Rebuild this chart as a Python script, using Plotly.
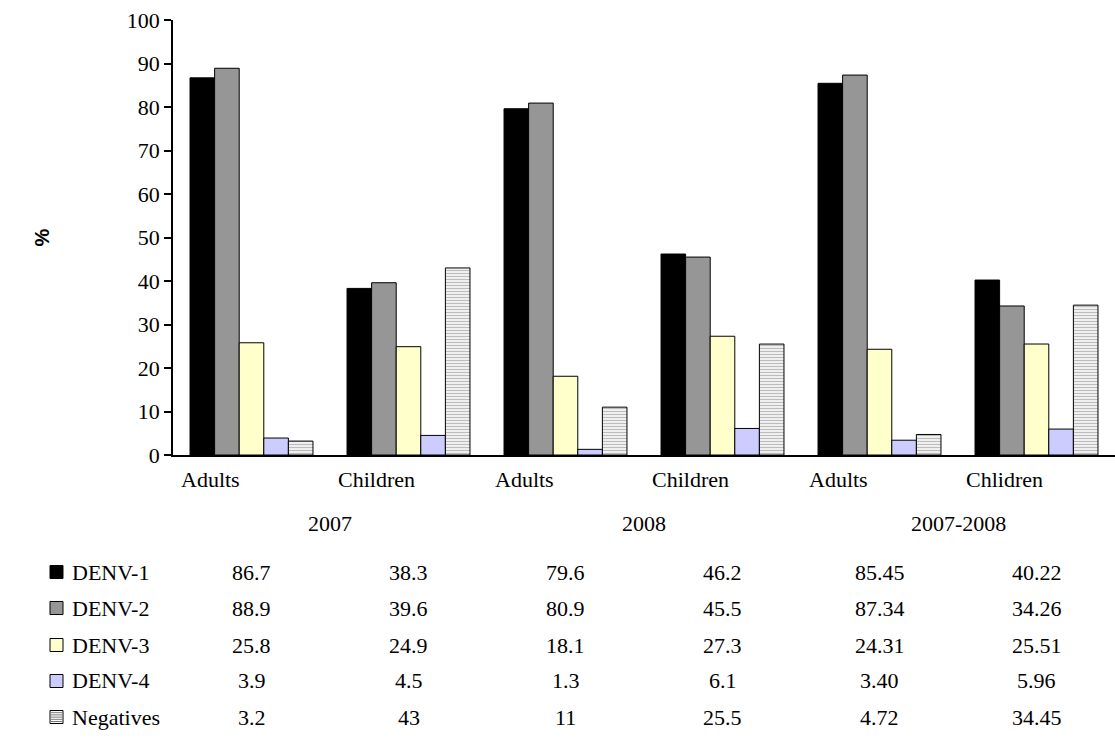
import plotly.graph_objects as go

# Dengue serotype distribution (%) by age group and period
categories = ["Adults", "Children", "Adults", "Children", "Adults", "Chlidren"]
periods = ["2007", "2008", "2007-2008"]
series_names = ["DENV-1", "DENV-2", "DENV-3", "DENV-4", "Negatives"]

# Values as printed in the data table (bars are drawn from the same numbers)
denv1 = ["86.7", "38.3", "79.6", "46.2", "85.45", "40.22"]
denv2 = ["88.9", "39.6", "80.9", "45.5", "87.34", "34.26"]
denv3 = ["25.8", "24.9", "18.1", "27.3", "24.31", "25.51"]
denv4 = ["3.9", "4.5", "1.3", "6.1", "3.40", "5.96"]
negatives = ["3.2", "43", "11", "25.5", "4.72", "34.45"]

y_ticks = list(range(0, 101, 10))

series_values = [denv1, denv2, denv3, denv4, negatives]
fills = ["#000000", "#969696", "#FFFFCC", "#CCCCFF", "#FFFFFF"]

W, H = 1115, 746
L, R, T, B = 173, 0, 20, 291
plot_w = W - L - R
plot_h = H - T - B
SERIF = "'Times New Roman', 'Liberation Serif', serif"
FS = 22


def px_x(px):
    return (px - L) / plot_w


def px_y(py):
    return (H - B - py) / plot_h


fig = go.Figure()
x_idx = list(range(len(categories)))
for name, vals, col in zip(series_names, series_values, fills):
    marker = dict(color=col, line=dict(color="#000000", width=1))
    if name == "Negatives":
        marker["pattern"] = dict(shape="-", fgcolor="#7a7a7a", bgcolor="#ffffff",
                                 size=3, solidity=0.5)
    fig.add_trace(go.Bar(x=x_idx, y=[float(v) for v in vals], name=name,
                         marker=marker, showlegend=False))

annotations = []
shapes = []

# category labels under each group
for i, c in enumerate(categories):
    annotations.append(dict(x=i - 0.5 + 0.04, y=px_y(479), xref="x", yref="paper",
                            text=c, showarrow=False, xanchor="left", yanchor="middle",
                            font=dict(family=SERIF, size=FS, color="#000000")))

# period labels spanning two groups each
for k, p in enumerate(periods):
    annotations.append(dict(x=2 * k + 0.5, y=px_y(523), xref="x", yref="paper",
                            text=p, showarrow=False, xanchor="center", yanchor="middle",
                            font=dict(family=SERIF, size=FS, color="#000000")))

# data table rows with legend keys
row_y = [572, 608, 645, 681, 717]
for r, (name, vals, col) in enumerate(zip(series_names, series_values, fills)):
    yc = row_y[r]
    annotations.append(dict(x=px_x(70), y=px_y(yc), xref="paper", yref="paper",
                            text=name, showarrow=False, xanchor="left", yanchor="middle",
                            font=dict(family=SERIF, size=FS, color="#000000")))
    for i, v in enumerate(vals):
        annotations.append(dict(x=i, y=px_y(yc), xref="x", yref="paper",
                                text=v, showarrow=False, xanchor="center", yanchor="middle",
                                font=dict(family=SERIF, size=FS, color="#000000")))
    x0, x1 = px_x(50), px_x(63)
    y0, y1 = px_y(yc + 6.5), px_y(yc - 6.5)
    shapes.append(dict(type="rect", xref="paper", yref="paper", x0=x0, x1=x1,
                       y0=y0, y1=y1, fillcolor=col,
                       line=dict(color="#000000", width=1)))
    if name == "Negatives":
        for k in range(1, 6):
            yy = px_y(yc - 6.5 + k * 2.2)
            shapes.append(dict(type="line", xref="paper", yref="paper",
                               x0=px_x(51), x1=px_x(62), y0=yy, y1=yy,
                               line=dict(color="#7a7a7a", width=1)))

fig.update_layout(
    width=W, height=H,
    margin=dict(l=L, r=R, t=T, b=B, pad=0),
    paper_bgcolor="#ffffff", plot_bgcolor="#ffffff",
    barmode="group", bargap=0.217, bargroupgap=0,
    annotations=annotations, shapes=shapes,
    font=dict(family=SERIF, size=FS, color="#000000"),
    xaxis=dict(range=[-0.5, 5.5], showticklabels=False, ticks="",
               showline=True, linecolor="#000000", linewidth=1.5,
               showgrid=False, zeroline=False, fixedrange=True),
    yaxis=dict(range=[0, 100], tickvals=y_ticks, ticks="outside", ticklen=7,
               tickcolor="#000000", tickwidth=1.5, showline=True,
               linecolor="#000000", linewidth=1.5, showgrid=False, zeroline=False,
               tickfont=dict(family=SERIF, size=FS, color="#000000"),
               title=dict(text="<b>%</b>", standoff=72,
                          font=dict(family="'Liberation Sans', Arial, sans-serif",
                                    size=20, color="#000000"))),
)

fig.write_html("out.html")
